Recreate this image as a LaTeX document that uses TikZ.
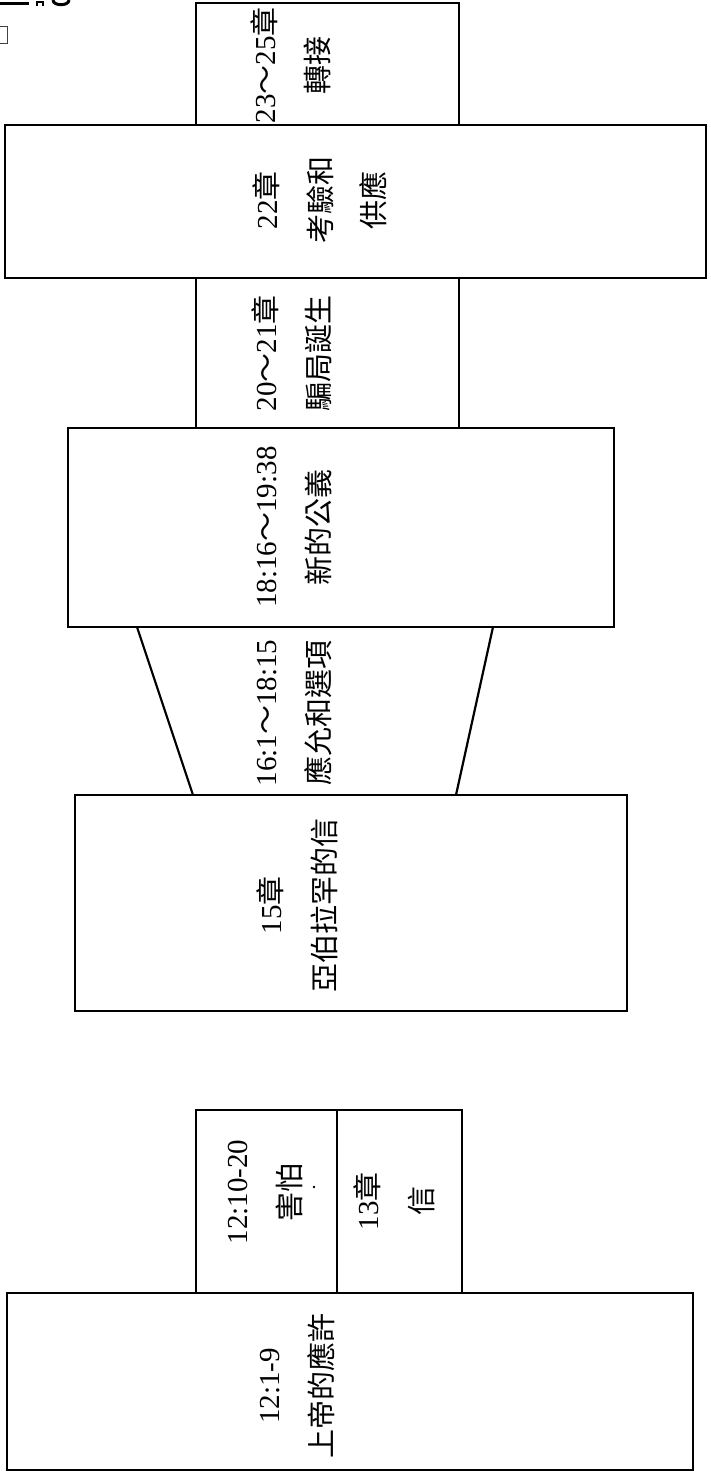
\documentclass[tikz,border=0pt]{standalone}
\usepackage{fontspec}
\setmainfont{Liberation Serif}
\newfontfamily\cjk{Noto Sans CJK TC}
\newcommand\zh[1]{{\cjk #1}}
\begin{document}
\begin{tikzpicture}[x=1pt,y=-1pt,
  box/.style={draw,line width=2.8pt},
  side/.style={draw,line width=2.2pt},
  lbl/.style={rotate=90,align=center,inner sep=0pt,font=\fontsize{29}{53.5}\selectfont}]
\useasboundingbox (0,0) rectangle (710,1475);
\fill[white] (0,0) rectangle (710,1475);
% scan remnants at the top left
\draw[line width=3pt] (0,3) -- (29,3);
\draw[line width=2.4pt] (37,6) -- (37,2) -- (43,2) -- (43,6);
\draw[line width=3pt] (53,0) to[out=-90,in=-90] (69,0);
\draw[line width=0.9pt,black!75] (0,26) -- (7,26) -- (7,43) -- (0,43);
% boxes
\draw[box] (196,3) rectangle (459,125);
\draw[box] (5,125) rectangle (706,278);
\draw[box] (196,278) rectangle (459,428);
\draw[box] (68,428) rectangle (614,627);
\draw[side] (137,627) -- (193,795);
\draw[side] (493,627) -- (456,795);
\draw[box] (75,795) rectangle (627,1011);
\draw[box] (196,1110) rectangle (337,1293);
\draw[box] (337,1110) rectangle (462,1293);
\draw[box] (7,1293) rectangle (693,1470);
% labels
\node[lbl] (t1) at (291,65) {23\zh{～}25\zh{章}\\\zh{轉接}};
\node[lbl] (t2) at (320,200) {22\zh{章}\\\zh{考驗和}\\\zh{供應}};
\node[lbl] (t3) at (292,353) {20\zh{～}21\zh{章}\\\zh{騙局誕生}};
\node[lbl] (t4) at (294.5,527) {18:16\zh{～}19:38\\\zh{新的公義}};
\node[lbl] (t5) at (294.5,713) {16:1\zh{～}18:15\\\zh{應允和選項}};
\node[lbl] (t6) at (297.5,905) {15\zh{章}\\\zh{亞伯拉罕的信}};
\node[lbl] (t7) at (265.5,1192) {12:10-20\\\zh{害怕}};
\node[lbl] (t8) at (394.5,1201) {13\zh{章}\\\zh{信}};
\node[lbl] (t9) at (297.5,1386) {12:1-9\\\zh{上帝的應許}};
\fill (314,1187) circle (1.3);
\end{tikzpicture}
\end{document}
